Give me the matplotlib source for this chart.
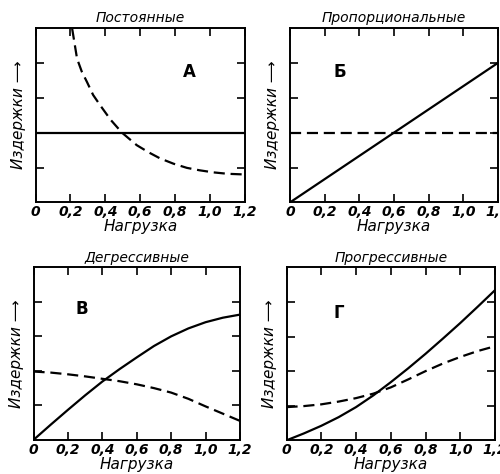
import matplotlib.pyplot as plt

plt.rcParams['font.family'] = ['Liberation Sans Narrow', 'DejaVu Sans']

# load values
x_ticks = [0, 0.2, 0.4, 0.6, 0.8, 1.0, 1.2]
x_labels = ['0', '0,2', '0,4', '0,6', '0,8', '1,0', '1,2']

# А - постоянные
a_solid_x = [0, 1.2]
a_solid_y = [2, 2]
a_dash_x = [0.21, 0.238, 0.265, 0.295, 0.33, 0.371, 0.43, 0.495, 0.58, 0.65,
            0.714, 0.79, 0.867, 0.94, 1.02, 1.1, 1.2]
a_dash_y = [4.98, 4.12, 3.75, 3.45, 3.08, 2.78, 2.37, 2.0, 1.64, 1.43,
            1.26, 1.11, 0.99, 0.92, 0.86, 0.82, 0.80]

# Б - пропорциональные
b_solid_x = [0, 1.2]
b_solid_y = [0, 4]
b_dash_x = [0, 1.2]
b_dash_y = [2, 2]

# В - дегрессивные
v_x = [0, 0.1, 0.2, 0.3, 0.4, 0.5, 0.6, 0.7, 0.8, 0.9, 1.0, 1.1, 1.2]
v_solid_y = [0, 0.44, 0.87, 1.29, 1.69, 2.05, 2.39, 2.72, 3.0, 3.23, 3.41, 3.54, 3.63]
v_dash_y = [1.98, 1.95, 1.9, 1.84, 1.77, 1.7, 1.61, 1.5, 1.37, 1.19, 0.97, 0.76, 0.55]

# Г - прогрессивные
g_x = [0, 0.1, 0.2, 0.3, 0.4, 0.5, 0.6, 0.7, 0.8, 0.9, 1.0, 1.1, 1.2]
g_solid_y = [0, 0.2, 0.42, 0.67, 0.96, 1.3, 1.68, 2.08, 2.5, 2.94, 3.39, 3.86, 4.34]
g_dash_y = [0.96, 0.99, 1.04, 1.12, 1.22, 1.35, 1.53, 1.76, 2.0, 2.22, 2.41, 2.58, 2.72]

panels = [
    ('Постоянные', 'А', (0.88, 3.75), [0.071, 0.573, 0.419, 0.368],
     (a_solid_x, a_solid_y), (a_dash_x, a_dash_y)),
    ('Пропорциональные', 'Б', (0.29, 3.75), [0.58, 0.573, 0.416, 0.368],
     (b_solid_x, b_solid_y), (b_dash_x, b_dash_y)),
    ('Дегрессивные', 'В', (0.28, 3.8), [0.067, 0.072, 0.413, 0.364],
     (v_x, v_solid_y), (v_x, v_dash_y)),
    ('Прогрессивные', 'Г', (0.3, 3.68), [0.573, 0.071, 0.417, 0.365],
     (g_x, g_solid_y), (g_x, g_dash_y)),
]

fig = plt.figure(figsize=(5, 4.74), dpi=100)

for title, letter, lpos, rect, solid, dash in panels:
    ax = fig.add_axes(rect)
    ax.plot(solid[0], solid[1], color='black', lw=1.6)
    ax.plot(dash[0], dash[1], color='black', lw=1.6, dashes=(5, 2.6))
    ax.set_xlim(0, 1.2)
    ax.set_ylim(0, 5)
    ax.set_xticks(x_ticks)
    ax.set_xticklabels(x_labels, fontsize=10, style='italic', fontweight='bold')
    ax.set_yticks([1, 2, 3, 4])
    ax.set_yticklabels([])
    ax.tick_params(direction='in', length=6, width=1.2, top=True, right=True, pad=2)
    for s in ax.spines.values():
        s.set_linewidth(1.4)
    ax.set_title(title, fontsize=10, style='italic', pad=4)
    ax.set_xlabel('Нагрузка', fontsize=11, style='italic', labelpad=0)
    ax.set_ylabel('Издержки ⟶', fontsize=11, style='italic', labelpad=5)
    ax.text(lpos[0], lpos[1], letter, fontsize=12, fontweight='bold',
            ha='center', va='center')

fig.savefig('out.png', dpi=100)
